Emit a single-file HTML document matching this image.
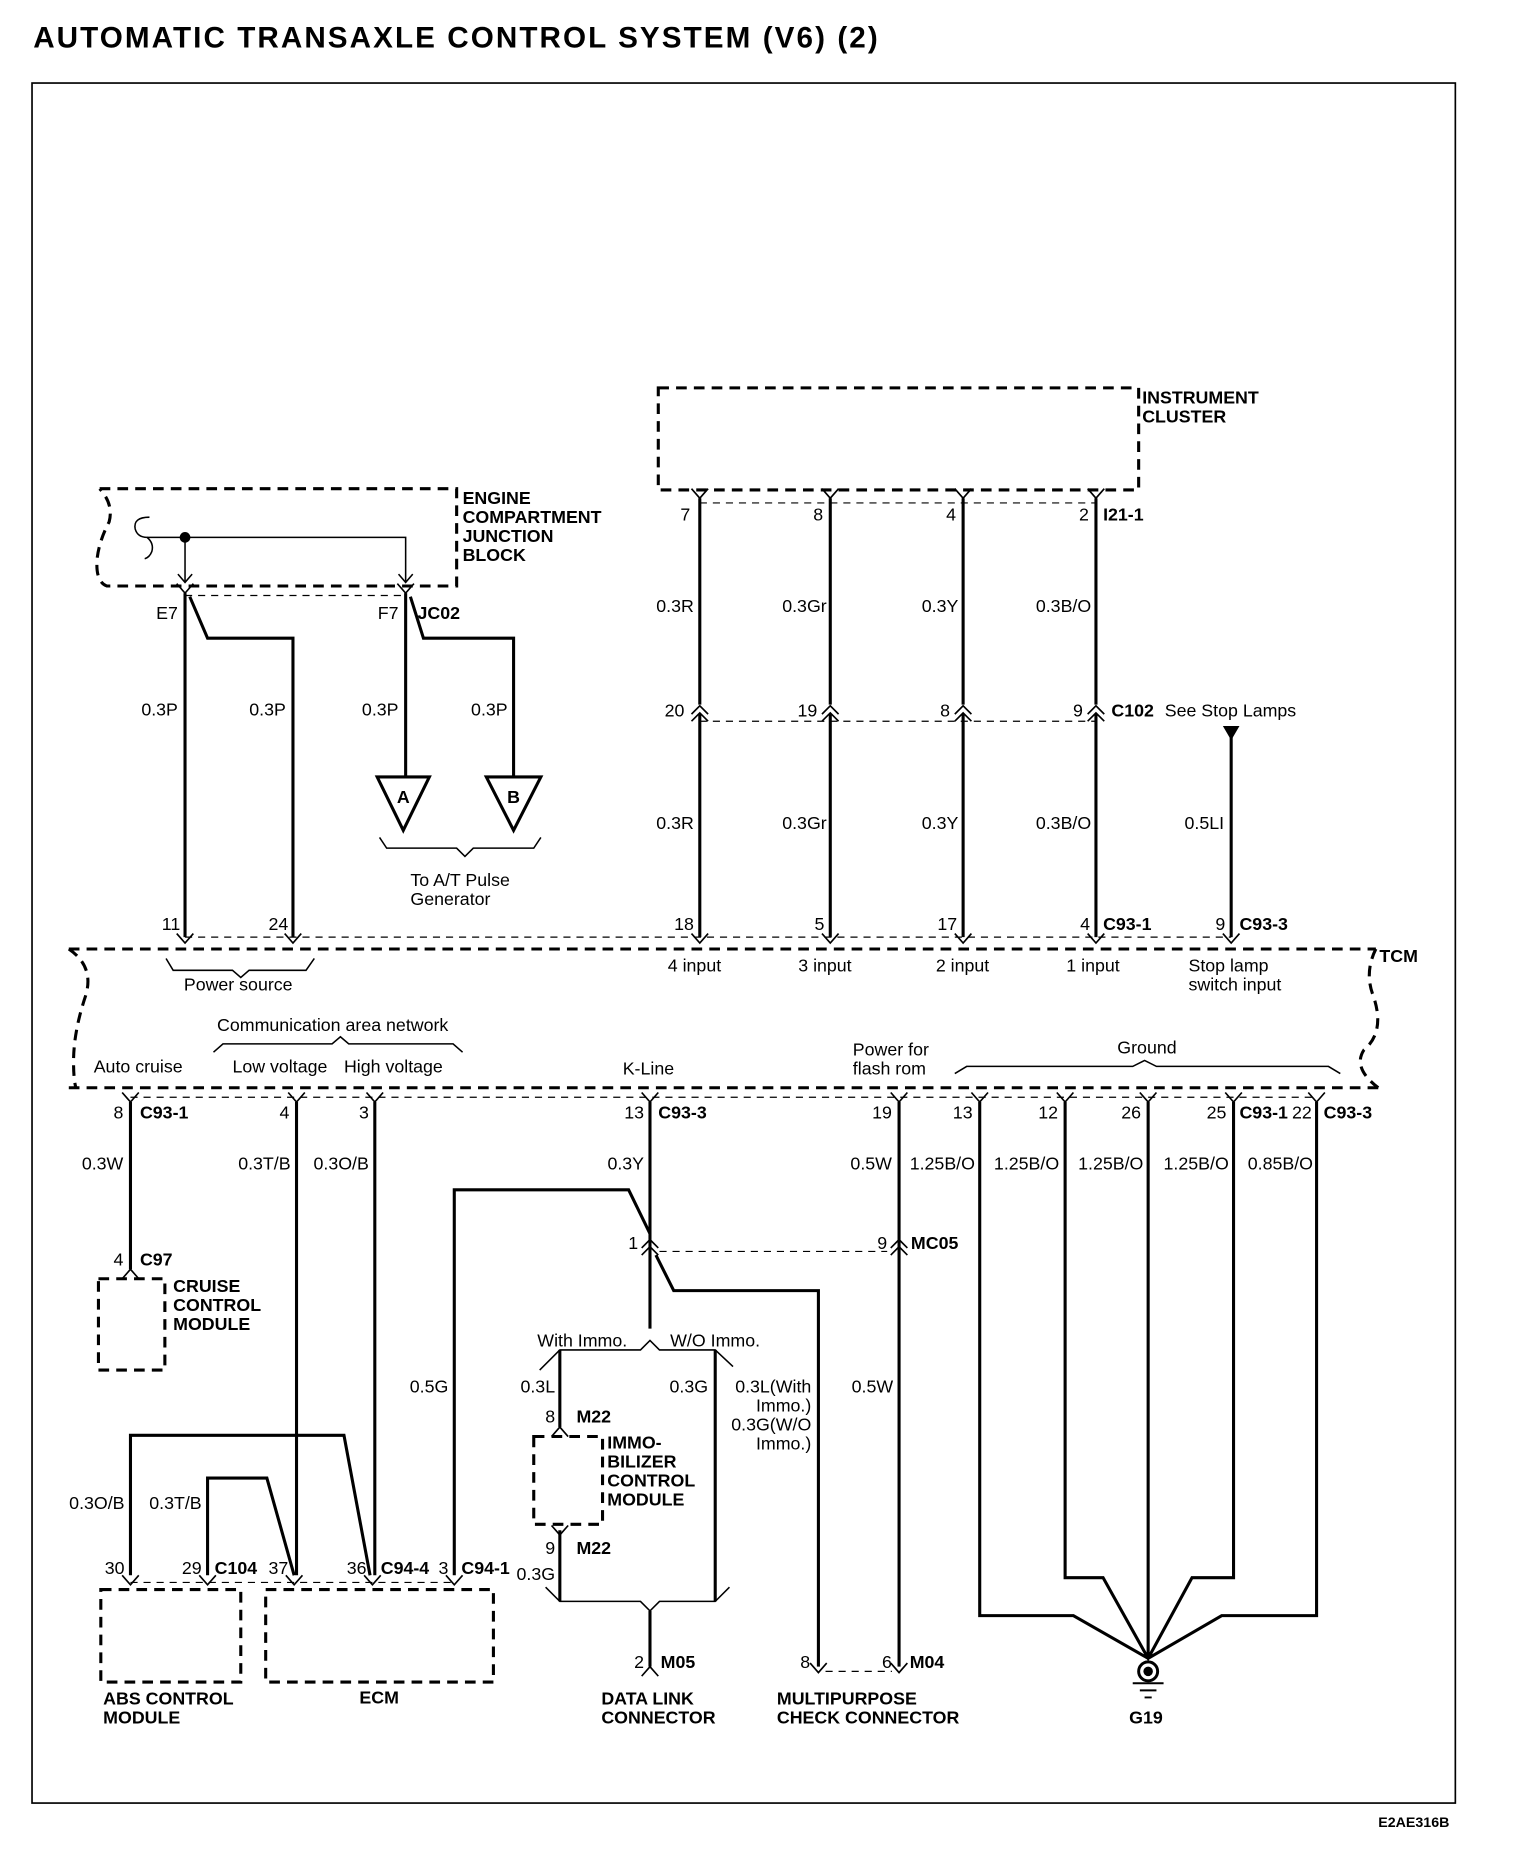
<!DOCTYPE html>
<html><head><meta charset="utf-8"><style>
html,body{margin:0;padding:0;background:#fff;}
svg{display:block}
text{font-family:"Liberation Sans",Arial,sans-serif;font-size:15px;fill:#000}
.b{font-weight:bold}
.e{text-anchor:end}
.w{stroke:#000;stroke-width:2.6;fill:none}
.t{stroke:#000;stroke-width:1.3;fill:none}
.d{stroke:#000;stroke-width:2.6;fill:none;stroke-dasharray:9,6}
.dt{stroke:#000;stroke-width:1;fill:none;stroke-dasharray:6,5}
</style></head><body>
<svg width="1536" height="1860" viewBox="0 0 1295 1568" preserveAspectRatio="none" xmlns="http://www.w3.org/2000/svg">
<defs>
<path id="v" d="M-7,-8 L0,0 L7,-8" stroke="#000" stroke-width="1.4" fill="none"/>
<path id="a" d="M-7,8 L0,0 L7,8" stroke="#000" stroke-width="1.4" fill="none"/>
<g id="aa"><path d="M-7,6 L0,-1 L7,6 M-7,12 L0,5 L7,12" stroke="#000" stroke-width="1.4" fill="none"/></g>
</defs>
<text x="28" y="40" class="b" style="font-size:25px" textLength="712">AUTOMATIC TRANSAXLE CONTROL SYSTEM (V6) (2)</text>
<rect x="27" y="70" width="1200" height="1450" fill="none" stroke="#000" stroke-width="1.4"/>
<text x="1162" y="1540" class="b" style="font-size:12px">E2AE316B</text>

<!-- Instrument cluster -->
<rect x="555" y="327" width="405" height="86" class="d"/>
<text x="963" y="340" class="b">INSTRUMENT</text><text x="963" y="356" class="b">CLUSTER</text>
<line x1="590" y1="424" x2="924" y2="424" class="dt"/>
<g transform="translate(590,420)"><use href="#v"/></g>
<g transform="translate(700,420)"><use href="#v"/></g>
<g transform="translate(812,420)"><use href="#v"/></g>
<g transform="translate(924,420)"><use href="#v"/></g>
<text x="582" y="439" class="e">7</text><text x="694" y="439" class="e">8</text><text x="806" y="439" class="e">4</text><text x="918" y="439" class="e">2</text>
<text x="930" y="439" class="b">I21-1</text>
<path class="w" d="M590,420V594 M700,420V594 M812,420V594 M924,420V594 M590,602V790 M700,602V790 M812,602V790 M924,602V790"/>
<text x="585" y="516" class="e">0.3R</text><text x="697" y="516" class="e">0.3Gr</text><text x="808" y="516" class="e">0.3Y</text><text x="920" y="516" class="e">0.3B/O</text>
<text x="585" y="699" class="e">0.3R</text><text x="697" y="699" class="e">0.3Gr</text><text x="808" y="699" class="e">0.3Y</text><text x="920" y="699" class="e">0.3B/O</text>
<line x1="590" y1="608" x2="924" y2="608" class="dt"/>
<g transform="translate(590,596)"><use href="#aa"/></g>
<g transform="translate(700,596)"><use href="#aa"/></g>
<g transform="translate(812,596)"><use href="#aa"/></g>
<g transform="translate(924,596)"><use href="#aa"/></g>
<text x="577" y="604" class="e">20</text><text x="689" y="604" class="e">19</text><text x="801" y="604" class="e">8</text><text x="913" y="604" class="e">9</text>
<text x="937" y="604" class="b">C102</text><text x="982" y="604">See Stop Lamps</text>
<path d="M1031,612 L1045,612 L1038,624 Z" fill="#000"/>
<path class="w" d="M1038,620V790"/>
<text x="1032" y="699" class="e">0.5LI</text>

<!-- Engine compartment JB -->
<path class="d" d="M84,412H385V494H90 Q80,490 82,470 Q84,455 92,440 Q96,425 84,412"/>
<text x="390" y="425" class="b">ENGINE</text><text x="390" y="441" class="b">COMPARTMENT</text><text x="390" y="457" class="b">JUNCTION</text><text x="390" y="473" class="b">BLOCK</text>
<path class="t" d="M126,436 Q112,436 114,446 Q116,453 124,453 Q130,458 128,465 Q126,470 122,471"/>
<path class="t" d="M124,453H342V490 M156,453V490"/>
<circle cx="156" cy="453" r="4.5" fill="#000"/>
<path class="t" d="M150,484L156,491L162,484 M336,484L342,491L348,484"/>
<line x1="156" y1="502" x2="342" y2="502" class="dt"/>
<g transform="translate(156,500)"><use href="#v"/></g>
<g transform="translate(342,500)"><use href="#v"/></g>
<text x="150" y="522" class="e">E7</text><text x="336" y="522" class="e">F7</text><text x="352" y="522" class="b">JC02</text>
<path class="w" d="M156,500V790 M160,503L175,538H247V790 M342,500V655 M346,503L357,538H433V655"/>
<text x="150" y="603" class="e">0.3P</text><text x="241" y="603" class="e">0.3P</text><text x="336" y="603" class="e">0.3P</text><text x="428" y="603" class="e">0.3P</text>
<path class="w" d="M318,655H362L340,700Z M410,655H456L433,700Z"/>
<text x="340" y="677" class="b" text-anchor="middle">A</text><text x="433" y="677" class="b" text-anchor="middle">B</text>
<path class="t" d="M320,706L326,715H385L392,722L399,715H450L456,706"/>
<text x="346" y="747">To A/T Pulse</text><text x="346" y="763">Generator</text>

<!-- TCM -->
<g transform="translate(0,795)">
<use href="#v" x="156"/><use href="#v" x="247"/><use href="#v" x="590"/><use href="#v" x="700"/><use href="#v" x="812"/><use href="#v" x="924"/><use href="#v" x="1038"/>
</g>
<line x1="156" y1="790" x2="1038" y2="790" class="dt"/>
<text x="152" y="784" class="e">11</text><text x="243" y="784" class="e">24</text><text x="585" y="784" class="e">18</text><text x="695" y="784" class="e">5</text><text x="807" y="784" class="e">17</text><text x="919" y="784" class="e">4</text>
<text x="930" y="784" class="b">C93-1</text><text x="1033" y="784" class="e">9</text><text x="1045" y="784" class="b">C93-3</text>
<path class="d" d="M58,800H1160 M58,917H1165"/>
<path class="d" d="M58,800 Q80,815 72,840 Q62,870 62,895 Q62,910 64,917"/>
<path class="d" d="M1160,800 Q1150,820 1158,840 Q1168,870 1150,885 Q1140,900 1162,917"/>
<text x="1163" y="811" class="b">TCM</text>
<path class="t" d="M140,808L146,818H196L203,824L210,818H258L265,808"/>
<text x="155" y="835">Power source</text>
<text x="563" y="819">4 input</text><text x="673" y="819">3 input</text><text x="789" y="819">2 input</text><text x="899" y="819">1 input</text>
<text x="1002" y="819">Stop lamp</text><text x="1002" y="835">switch input</text>
<text x="183" y="869">Communication area network</text>
<path class="t" d="M180,887L188,880H280L287,874L294,880H382L390,887"/>
<text x="79" y="904">Auto cruise</text><text x="196" y="904">Low voltage</text><text x="290" y="904">High voltage</text>
<text x="525" y="906">K-Line</text><text x="719" y="890">Power for</text><text x="719" y="906">flash rom</text>
<text x="942" y="888">Ground</text>
<path class="t" d="M805,905L815,899H955L965,894L975,899H1120L1130,905"/>
<g transform="translate(0,929)">
<use href="#v" x="110"/><use href="#v" x="250"/><use href="#v" x="316"/><use href="#v" x="548"/><use href="#v" x="758"/><use href="#v" x="826"/><use href="#v" x="898"/><use href="#v" x="968"/><use href="#v" x="1040"/><use href="#v" x="1110"/>
</g>
<line x1="110" y1="925" x2="1110" y2="925" class="dt"/>
<text x="104" y="943" class="e">8</text><text x="118" y="943" class="b">C93-1</text><text x="244" y="943" class="e">4</text><text x="311" y="943" class="e">3</text>
<text x="543" y="943" class="e">13</text><text x="555" y="943" class="b">C93-3</text><text x="752" y="943" class="e">19</text>
<text x="820" y="943" class="e">13</text><text x="892" y="943" class="e">12</text><text x="962" y="943" class="e">26</text><text x="1034" y="943" class="e">25</text>
<text x="1045" y="943" class="b">C93-1</text><text x="1106" y="943" class="e">22</text><text x="1116" y="943" class="b">C93-3</text>
<text x="104" y="986" class="e">0.3W</text><text x="245" y="986" class="e">0.3T/B</text><text x="311" y="986" class="e">0.3O/B</text><text x="543" y="986" class="e">0.3Y</text><text x="752" y="986" class="e">0.5W</text>
<text x="822" y="986" class="e">1.25B/O</text><text x="893" y="986" class="e">1.25B/O</text><text x="964" y="986" class="e">1.25B/O</text><text x="1036" y="986" class="e">1.25B/O</text><text x="1107" y="986" class="e">0.85B/O</text>

<!-- Cruise -->
<path class="w" d="M110,929V1070"/>
<g transform="translate(110,1070)"><use href="#a"/></g>
<text x="104" y="1067" class="e">4</text><text x="118" y="1067" class="b">C97</text>
<rect x="83" y="1078" width="56" height="77" class="d"/>
<text x="146" y="1089" class="b">CRUISE</text><text x="146" y="1105" class="b">CONTROL</text><text x="146" y="1121" class="b">MODULE</text>

<!-- ECM/ABS -->
<path class="w" d="M250,929V1328 M316,929V1328 M110,1328V1210H290L312,1328 M175,1328V1246H225L248,1328 M383,1328V1003H530L548,1040"/>
<text x="105" y="1272" class="e">0.3O/B</text><text x="170" y="1272" class="e">0.3T/B</text><text x="378" y="1174" class="e">0.5G</text>
<line x1="110" y1="1334" x2="383" y2="1334" class="dt"/>
<g transform="translate(0,1336)"><use href="#v" x="110"/><use href="#v" x="175"/><use href="#v" x="248"/><use href="#v" x="314"/><use href="#v" x="383"/></g>
<text x="105" y="1327" class="e">30</text><text x="170" y="1327" class="e">29</text><text x="181" y="1327" class="b">C104</text><text x="243" y="1327" class="e">37</text>
<text x="309" y="1327" class="e">36</text><text x="321" y="1327" class="b">C94-4</text><text x="378" y="1327" class="e">3</text><text x="389" y="1327" class="b">C94-1</text>
<rect x="85" y="1340" width="118" height="78" class="d"/>
<rect x="224" y="1340" width="192" height="78" class="d"/>
<text x="87" y="1437" class="b">ABS CONTROL</text><text x="87" y="1453" class="b">MODULE</text><text x="303" y="1436" class="b">ECM</text>

<!-- K-line -->
<path class="w" d="M548,929V1120 M553,1058L568,1088H690V1405 M758,929V1405"/>
<g transform="translate(548,1046)"><use href="#aa"/></g>
<g transform="translate(758,1046)"><use href="#aa"/></g>
<line x1="556" y1="1055" x2="748" y2="1055" class="dt"/>
<text x="538" y="1053" class="e">1</text><text x="748" y="1053" class="e">9</text><text x="768" y="1053" class="b">MC05</text>
<path class="t" d="M455,1155L472,1138H540L548,1130L556,1138H603L618,1152"/>
<text x="453" y="1135">With Immo.</text><text x="565" y="1135">W/O Immo.</text>
<path class="w" d="M472,1138V1203 M603,1138V1350 M472,1290V1350"/>
<text x="468" y="1174" class="e">0.3L</text><text x="597" y="1174" class="e">0.3G</text><text x="753" y="1174" class="e">0.5W</text>
<text x="684" y="1174" class="e">0.3L(With</text><text x="684" y="1190" class="e">Immo.)</text><text x="684" y="1206" class="e">0.3G(W/O</text><text x="684" y="1222" class="e">Immo.)</text>
<g transform="translate(472,1203)"><use href="#a"/></g>
<text x="468" y="1199" class="e">8</text><text x="486" y="1199" class="b">M22</text>
<rect x="450" y="1211" width="58" height="74" class="d"/>
<text x="512" y="1221" class="b">IMMO-</text><text x="512" y="1237" class="b">BILIZER</text><text x="512" y="1253" class="b">CONTROL</text><text x="512" y="1269" class="b">MODULE</text>
<g transform="translate(472,1294)"><use href="#v"/></g>
<text x="468" y="1310" class="e">9</text><text x="486" y="1310" class="b">M22</text><text x="468" y="1332" class="e">0.3G</text>
<path class="t" d="M460,1338L472,1350H540L548,1358L556,1350H603L615,1338"/>
<path class="w" d="M548,1358V1405"/>
<g transform="translate(548,1405)"><use href="#a"/></g>
<text x="543" y="1406" class="e">2</text><text x="557" y="1406" class="b">M05</text>
<text x="507" y="1437" class="b">DATA LINK</text><text x="507" y="1453" class="b">CONNECTOR</text>
<g transform="translate(0,1410)"><use href="#v" x="690"/><use href="#v" x="758"/></g>
<line x1="696" y1="1409" x2="752" y2="1409" class="dt"/>
<text x="683" y="1406" class="e">8</text><text x="752" y="1406" class="e">6</text><text x="767" y="1406" class="b">M04</text>
<text x="655" y="1437" class="b">MULTIPURPOSE</text><text x="655" y="1453" class="b">CHECK CONNECTOR</text>

<!-- Ground -->
<path class="w" d="M826,929V1362H905L968,1398L1030,1362H1110V929 M898,929V1330H930L968,1398L1005,1330H1040V929 M968,929V1398"/>
<circle cx="968" cy="1409" r="8" fill="none" stroke="#000" stroke-width="2.5"/>
<circle cx="968" cy="1409" r="4" fill="#000"/>
<path d="M955,1419H981 M961,1425H975 M965,1431H971" stroke="#000" stroke-width="1.6"/>
<text x="952" y="1453" class="b">G19</text>
</svg>
</body></html>
